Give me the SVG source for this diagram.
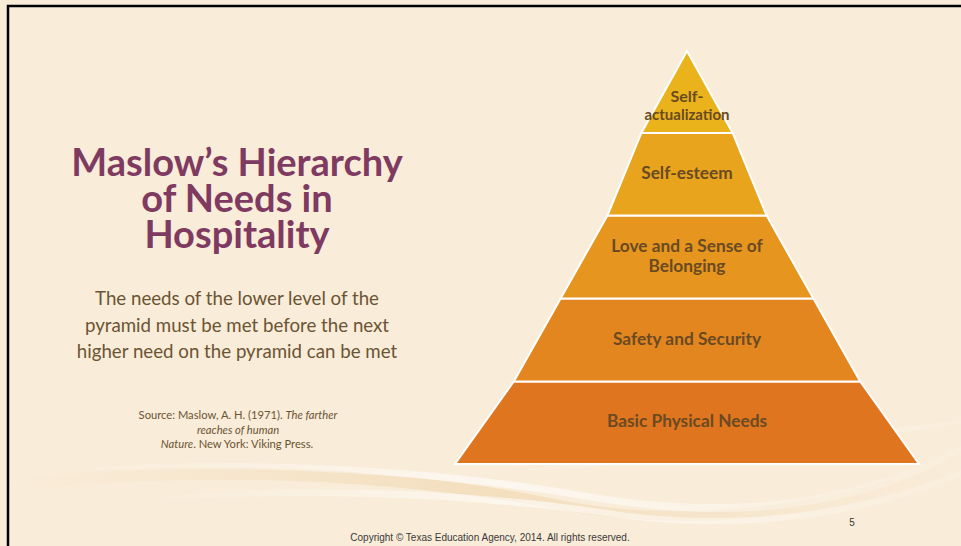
<svg xmlns="http://www.w3.org/2000/svg" width="961" height="546" viewBox="0 0 961 546">
<defs>
<style>
.tier{stroke:#ffffff;stroke-width:2;stroke-linejoin:miter}
.lbl{font-family:"Lato","Open Sans",sans-serif;font-weight:700;font-size:17.3px;fill:#6a4a22;text-anchor:middle}
.title{font-family:"Lato","Open Sans",sans-serif;font-weight:700;font-size:38px;fill:#7e3a61;text-anchor:middle}
.body{font-family:"Lato","Open Sans",sans-serif;font-size:18.7px;fill:#6b5434;text-anchor:middle}
.src{font-family:"Lato","Open Sans",sans-serif;font-size:11.2px;fill:#6b5434;text-anchor:middle}
.foot{font-family:"Liberation Sans",Arial,sans-serif;font-size:10px;fill:#3a3a3a;text-anchor:middle}
</style>
<linearGradient id="w1" x1="0" y1="0" x2="1" y2="0">
<stop offset="0" stop-color="#ffffff" stop-opacity="0"/>
<stop offset="0.5" stop-color="#ffffff" stop-opacity="0.6"/>
<stop offset="1" stop-color="#ffffff" stop-opacity="0.1"/>
</linearGradient>
<linearGradient id="w2" x1="0" y1="0" x2="1" y2="0">
<stop offset="0" stop-color="#f0d9b5" stop-opacity="0"/>
<stop offset="0.5" stop-color="#f0d5ac" stop-opacity="0.6"/>
<stop offset="1" stop-color="#f0d9b5" stop-opacity="0"/>
</linearGradient>
</defs>
<rect x="0" y="0" width="961" height="546" fill="#f9ecd8"/>
<g id="waves">
<path d="M10 480 C200 455 420 470 560 500 C700 528 850 500 961 455 L961 470 C850 515 700 535 560 510 C420 482 200 468 10 492 Z" fill="url(#w2)"/>
<path d="M40 470 C240 455 430 465 600 495 C760 520 880 490 961 445 L961 452 C880 500 760 528 600 502 C430 472 240 462 40 474 Z" fill="url(#w1)"/>
<path d="M120 500 C300 480 480 490 620 512 C760 530 880 505 961 470 L961 476 C880 512 760 536 620 518 C480 498 300 488 120 504 Z" fill="url(#w1)"/>
<path d="M500 470 C650 460 800 440 961 420 L961 424 C800 446 650 466 500 472 Z" fill="url(#w1)"/>
</g>
<path d="M8 546 L8 6 L961 6" fill="none" stroke="#000000" stroke-width="2.5"/>
<g id="title">
<text class="title" x="237" y="176">Maslow’s Hierarchy</text>
<text class="title" x="237" y="212">of Needs in</text>
<text class="title" x="237" y="248">Hospitality</text>
</g>
<g id="body">
<text class="body" x="237" y="305">The needs of the lower level of the</text>
<text class="body" x="237" y="332">pyramid must be met before the next</text>
<text class="body" x="237" y="358">higher need on the pyramid can be met</text>
</g>
<g id="source">
<text class="src" x="238" y="419">Source: Maslow, A. H. (1971). <tspan font-style="italic">The farther</tspan></text>
<text class="src" x="238" y="434" font-style="italic">reaches of human</text>
<text class="src" x="237" y="448"><tspan font-style="italic">Nature</tspan>. New York: Viking Press.</text>
</g>
<g id="pyramid">
<g id="tier-basic">
<polygon class="tier" points="513.8,381.5 860.2,381.5 919,464 455,464" fill="#df751f"/>
<text class="lbl" x="687" y="427">Basic Physical Needs</text>
</g>
<g id="tier-safety">
<polygon class="tier" points="560.6,298.5 813.4,298.5 860.2,381.5 513.8,381.5" fill="#e3861f"/>
<text class="lbl" x="687" y="345">Safety and Security</text>
</g>
<g id="tier-love">
<polygon class="tier" points="607.4,215.5 766.6,215.5 813.4,298.5 560.6,298.5" fill="#e6951f"/>
<text class="lbl" x="687" y="252">Love and a Sense of</text>
<text class="lbl" x="687" y="272">Belonging</text>
</g>
<g id="tier-esteem">
<polygon class="tier" points="641.3,133 732.7,133 766.6,215.5 607.4,215.5" fill="#e8a41d"/>
<text class="lbl" x="687" y="179">Self-esteem</text>
</g>
<g id="tier-self">
<polygon class="tier" points="687,51 732.7,133 641.3,133" fill="#ebb31b"/>
<text class="lbl" x="687" y="102" style="font-size:16px">Self-</text>
<text class="lbl" x="687" y="120" style="font-size:15px">actualization</text>
</g>
</g>
<g id="footer">
<text class="foot" x="490" y="541">Copyright © Texas Education Agency, 2014. All rights reserved.</text>
<text class="foot" x="852" y="526">5</text>
</g>
</svg>
